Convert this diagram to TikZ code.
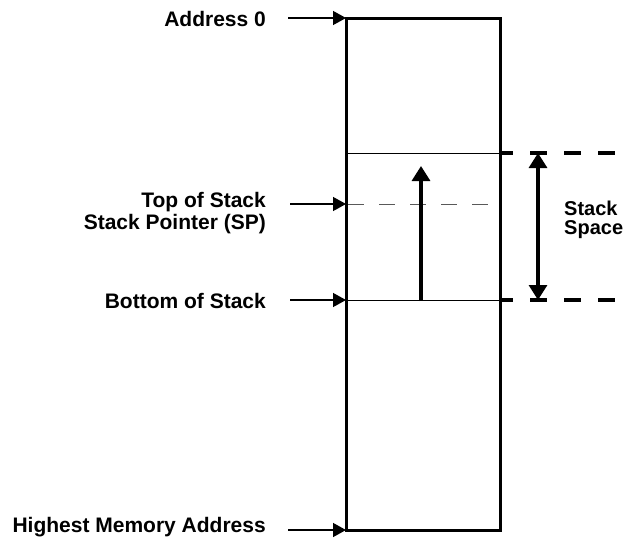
\documentclass[tikz,border=0pt]{standalone}
\usepackage{fontspec}
\setmainfont{Liberation Sans}
\usetikzlibrary{arrows.meta}
\tikzset{bigtip/.tip={Triangle[length=15pt,width=18pt]}}
\begin{document}
\begin{tikzpicture}[x=1pt,y=-1pt,
  lbl/.style={font=\bfseries\fontsize{21}{22.5}\selectfont, anchor=east, align=right, inner sep=0pt},
  ptr/.style={line width=1.4pt, -{Triangle[length=13pt,width=14pt]}},
  thickline/.style={line width=3pt},
  bigdash/.style={line width=3.2pt, dash pattern=on 17pt off 17pt, dash phase=4pt}]
\useasboundingbox (0,0) rectangle (628,541);
% memory block
\draw[thickline] (346,18) rectangle (500,530);
\coordinate (boxTL) at (346,18);
\coordinate (boxBL) at (346,530);
\coordinate (topL) at (346,153);
\coordinate (topR) at (500,153);
\coordinate (spL) at (346,204);
\coordinate (spR) at (500,204);
\coordinate (botL) at (346,300);
\coordinate (botR) at (500,300);
\coordinate (topE) at (622,153);
\coordinate (botE) at (622,300);
\draw[line width=1pt] (topL) -- (topR);
\draw[line width=1pt] (botL) -- (botR);
\draw[line width=1pt, dash pattern=on 16pt off 15pt, dash phase=-2pt, gray!70!black] (spL) -- (spR);
\draw[bigdash] (topR) -- (topE);
\draw[bigdash] (botR) -- (botE);
% growth arrow
\coordinate (gs) at (421,301);
\coordinate (ge) at (421,166);
\draw[line width=3.2pt, -bigtip] (gs) -- (ge);
% stack space
\coordinate (ssT) at (538,153);
\coordinate (ssB) at (538,300);
\draw[line width=3.2pt, bigtip-bigtip] (ssT) -- (ssB);
\node[font=\bfseries\fontsize{20}{19}\selectfont, anchor=west, align=left, inner sep=0pt] (ssl) at (564,220) {Stack\\Space};
% labels
\node[lbl] (a0) at (266,19) {Address 0};
\node[lbl] (tos) at (266,213) {Top of Stack\\Stack Pointer (SP)};
\node[lbl] (bos) at (266,301) {Bottom of Stack};
\node[lbl] (hma) at (266,527) {Highest Memory Address};
\coordinate (a0s) at (288,18);
\coordinate (tss) at (290,204);
\coordinate (bss) at (290,300);
\coordinate (hms) at (288,530);
\draw[ptr] (a0s) -- (boxTL);
\draw[ptr] (tss) -- (spL);
\draw[ptr] (bss) -- (botL);
\draw[ptr] (hms) -- (boxBL);
\end{tikzpicture}
\end{document}
